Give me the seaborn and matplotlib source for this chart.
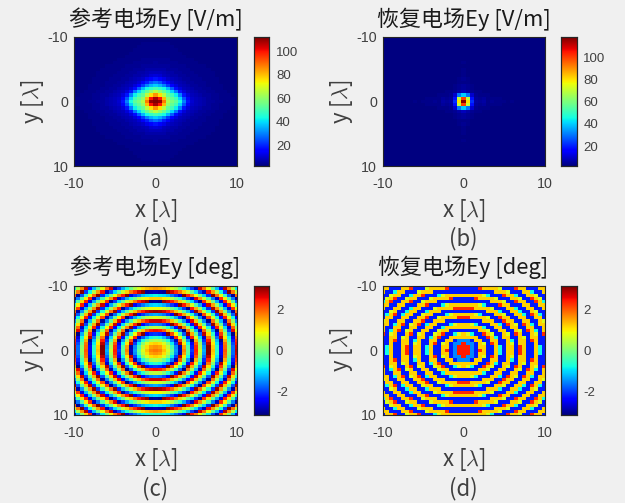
import numpy as np
import seaborn as sns
import matplotlib
matplotlib.use('Agg')
import matplotlib.pyplot as plt

# lower right quarter of each panel (x, y = 0 to 10, step 0.5), mirrored below to the full map.
# the picture is only nearly symmetric and has finer cells in (a) and (c), so this is an approximation.
# amp_ref, amp_rec: estimated by eye from the colours against the colorbar
amp_ref = [
    [113,110,88,64,57,53,44,30,18,10,8,7,6,5,5,4,4,3,3,3,2],
    [108,100,80,60,54,49,39,25,14,9,8,7,6,5,4,4,3,3,3,3,2],
    [85,76,65,54,49,42,30,18,11,8,7,6,5,5,4,4,3,3,3,2,2],
    [65,60,54,47,39,29,18,11,8,7,6,5,5,4,4,3,3,3,2,2,2],
    [50,47,43,36,26,17,11,8,7,6,5,5,4,4,3,3,3,2,2,2,2],
    [38,35,30,22,15,11,8,7,6,5,5,4,4,3,3,3,3,2,2,2,2],
    [28,25,19,14,10,8,7,6,5,5,4,4,4,3,3,3,2,2,2,2,2],
    [18,15,12,9,8,7,6,5,5,4,4,4,3,3,3,3,2,2,2,2,2],
    [11,10,8,7,6,6,5,5,4,4,4,3,3,3,3,2,2,2,2,2,2],
    [8,8,7,6,6,5,5,4,4,4,3,3,3,3,3,2,2,2,2,2,2],
    [6,6,6,5,5,5,4,4,4,3,3,3,3,3,2,2,2,2,2,2,2],
    [5,5,5,5,4,4,4,4,3,3,3,3,3,2,2,2,2,2,2,2,2],
    [5,4,4,4,4,4,3,3,3,3,3,2,2,2,2,2,2,2,2,2,2],
    [4,4,4,4,3,3,3,3,3,3,2,2,2,2,2,2,2,2,2,2,2],
    [3,3,3,3,3,3,3,3,2,2,2,2,2,2,2,2,2,2,2,2,2],
    [3,3,3,3,3,3,3,2,2,2,2,2,2,2,2,2,2,2,2,2,2],
    [3,3,3,3,3,3,2,2,2,2,2,2,2,2,2,2,2,2,2,2,2],
    [3,3,3,3,3,2,2,2,2,2,2,2,2,2,2,2,2,2,2,2,2],
    [3,3,3,3,2,2,2,2,2,2,2,2,2,2,2,2,2,2,2,2,2],
    [2,2,2,2,2,2,2,2,2,2,2,2,2,2,2,2,2,2,2,2,2],
    [2,2,2,2,2,2,2,2,2,2,2,2,2,2,2,2,2,2,2,2,2],
]
amp_rec = [
    [118,80,22,6,5,6,3,4,3,3,3,2,3,2,2,2,2,2,2,2,2],
    [100,70,18,5,4,5,3,3,3,3,2,2,2,2,2,2,2,2,2,2,2],
    [40,30,10,4,3,3,3,2,2,2,2,2,2,2,2,2,2,2,2,2,2],
    [8,6,4,3,3,2,2,2,2,2,2,2,2,2,2,2,2,2,2,2,2],
    [5,4,3,2,2,2,2,2,2,2,2,2,2,2,2,2,2,2,2,2,2],
    [5,4,3,2,2,2,2,2,2,2,2,2,2,2,2,2,2,2,2,2,2],
    [3,3,2,2,2,2,2,2,2,2,2,2,2,2,2,2,2,2,2,2,2],
    [4,3,2,2,2,2,2,2,2,2,2,2,2,2,2,2,2,2,2,2,2],
    [3,2,2,2,2,2,2,2,2,2,2,2,2,2,2,2,2,2,2,2,2],
    [3,2,2,2,2,2,2,2,2,2,2,2,2,2,2,2,2,2,2,2,2],
    [3,2,2,2,2,2,2,2,2,2,2,2,2,2,2,2,2,2,2,2,2],
    [2,2,2,2,2,2,2,2,2,2,2,2,2,2,2,2,2,2,2,2,2],
    [3,2,2,2,2,2,2,2,2,2,2,2,2,2,2,2,2,2,2,2,2],
    [2,2,2,2,2,2,2,2,2,2,2,2,2,2,2,2,2,2,2,2,2],
    [2,2,2,2,2,2,2,2,2,2,2,2,2,2,2,2,2,2,2,2,2],
    [2,2,2,2,2,2,2,2,2,2,2,2,2,2,2,2,2,2,2,2,2],
    [2,2,2,2,2,2,2,2,2,2,2,2,2,2,2,2,2,2,2,2,2],
    [2,2,2,2,2,2,2,2,2,2,2,2,2,2,2,2,2,2,2,2,2],
    [2,2,2,2,2,2,2,2,2,2,2,2,2,2,2,2,2,2,2,2,2],
    [2,2,2,2,2,2,2,2,2,2,2,2,2,2,2,2,2,2,2,2,2],
    [2,2,2,2,2,2,2,2,2,2,2,2,2,2,2,2,2,2,2,2,2],
]
# phase_ref, phase_rec: not read cell by cell. worked out by hand from the ring positions and
# spacing measured on the picture, so the rings sit about right but single cells will differ
phase_ref = [
    [1.8,1.7,1.3,.7,-.2,-1.4,-2.8,1.7,-.2,-2.0,2.4,.6,-1.3,3.1,1.3,-.6,-2.4,2.0,.2,-1.7,2.8],
    [1.6,1.5,1.1,.5,-.4,-1.5,-2.9,1.5,-.3,-2.2,2.3,.4,-1.4,3.1,1.2,-.6,-2.5,1.9,.1,-1.7,2.7],
    [1.2,1.1,.7,.1,-.9,-2.0,2.8,1.0,-.8,-2.5,2.0,.2,-1.7,2.8,1.0,-.9,-2.7,1.8,-.1,-1.9,2.5],
    [.4,.3,-.1,-.7,-1.6,-2.8,2.0,.3,-1.4,-3.1,1.4,-.3,-2.1,2.4,.6,-1.2,-3.0,1.4,-.4,-2.2,2.3],
    [-.6,-.8,-1.2,-1.8,-2.7,2.3,.9,-.6,-2.3,2.4,.7,-1.0,-2.7,1.8,.1,-1.7,2.8,1.0,-.8,-2.6,1.9],
    [-2.0,-2.1,-2.5,3.1,2.1,.9,-.4,-1.8,3.0,1.4,-.2,-1.8,2.8,1.1,-.6,-2.3,2.2,.4,-1.3,-3.1,1.4],
    [2.5,2.4,2.0,1.3,.4,-.6,-1.8,-3.1,1.8,.3,-1.2,-2.8,1.9,.3,-1.4,-3.1,1.5,-.2,-2.0,2.6,.8],
    [.5,.4,.0,-.6,-1.3,-2.3,3.0,1.7,.4,-.9,-2.4,2.4,.9,-.7,-2.3,2.4,.7,-1.0,-2.7,1.9,.2],
    [-1.5,-1.6,-1.9,-2.4,3.1,2.3,1.3,.2,-1.0,-2.3,2.7,1.2,-.3,-1.8,3.0,1.4,-.2,-1.9,2.8,1.1,-.6],
    [2.7,2.7,2.4,1.9,1.3,.5,-.4,-1.4,-2.5,2.6,1.3,-.1,-1.5,-3.0,1.8,.3,-1.2,-2.8,1.8,.2,-1.5],
    [.7,.6,.4,.0,-.6,-1.3,-2.1,-3.1,2.2,1.0,-.2,-1.5,-2.8,2.1,.7,-.8,-2.3,2.4,.8,-.8,-2.4],
    [-1.3,-1.4,-1.6,-2.0,-2.5,3.1,2.4,1.5,.5,-.6,-1.7,-3.0,2.1,.8,-.6,-2.0,2.8,1.3,-.2,-1.8,2.9],
    [3.0,2.9,2.7,2.4,1.9,1.3,.5,-.3,-1.2,-2.2,3.0,1.8,.6,-.6,-2.0,3.0,1.5,.1,-1.4,-2.9,1.8],
    [.9,.9,.7,.4,-.1,-.6,-1.3,-2.0,-3.0,2.4,1.4,.3,-.9,-2.1,2.9,1.6,.2,-1.2,-2.6,2.2,.7],
    [-1.0,-1.1,-1.3,-1.6,-2.0,-2.5,3.1,2.4,1.6,.7,-.3,-1.3,-2.4,2.7,1.5,.2,-1.1,-2.5,2.4,1.0,-.5],
    [-3.0,-3.1,3.0,2.7,2.4,1.8,1.2,.6,-.2,-1.0,-2.0,-3.0,2.3,1.1,-.1,-1.3,-2.6,2.4,1.1,-.3,-1.8],
    [1.2,1.2,1.0,.7,.4,-.1,-.6,-1.3,-2.0,-2.8,2.6,1.6,.6,-.4,-1.6,-2.8,2.3,1.0,-.3,-1.6,-3.0],
    [-.8,-.9,-1.0,-1.2,-1.6,-2.0,-2.6,3.1,2.4,1.7,.8,-.1,-1.1,-2.1,3.1,1.9,.8,-.5,-1.8,-3.0,1.9],
    [-2.8,-2.9,-3.0,3.1,2.7,2.3,1.8,1.2,.6,-.2,-1.0,-1.9,-2.8,2.5,1.5,.4,-.8,-2.0,3.1,1.8,.5],
    [1.5,1.4,1.3,1.1,.7,.4,-.1,-.7,-1.3,-2.0,-2.8,2.7,1.8,.8,-.2,-1.2,-2.3,2.8,1.6,.4,-.9],
    [-.6,-.6,-.8,-.9,-1.2,-1.6,-2.0,-2.6,3.1,2.4,1.7,.9,.0,-.9,-1.9,-2.9,2.3,1.2,.0,-1.2,-2.4],
]
# recovered phase is almost two-level, so name the colours that occur in it
A, B, Y, C, R, K, S = 1.2, -2.2, .7, -.8, 2.3, 2.4, -1.5
phase_rec = [
    [K,K,S,B,R,A,B,B,A,C,B,A,A,B,R,A,B,B,A,C,B],
    [K,K,S,B,A,A,B,B,A,C,B,A,A,B,R,A,B,B,A,C,B],
    [K,S,S,B,A,Y,B,R,A,B,B,A,Y,B,A,A,B,B,A,B,B],
    [S,S,B,A,A,B,B,A,A,B,B,A,C,B,A,A,B,R,A,B,B],
    [A,A,A,A,B,B,R,A,C,B,A,A,B,B,A,Y,B,A,A,B,B],
    [A,Y,C,B,B,R,A,Y,B,B,A,Y,B,R,A,B,B,A,Y,B,R],
    [B,B,B,B,A,A,Y,B,B,A,A,B,B,A,Y,B,R,A,C,B,A],
    [A,A,A,A,A,C,B,B,A,A,B,B,A,A,B,B,A,A,B,B,A],
    [A,A,Y,C,B,B,B,A,A,C,B,R,A,Y,B,R,A,C,B,A,A],
    [B,B,B,B,B,A,A,A,B,B,R,A,A,B,B,A,A,B,B,A,Y],
    [R,R,A,A,A,A,Y,B,B,R,A,A,B,B,A,A,B,B,A,A,B],
    [A,A,A,Y,C,B,B,B,A,A,Y,B,B,A,A,C,B,R,A,C,B],
    [B,B,B,B,B,B,A,A,A,C,B,B,A,A,C,B,B,A,Y,B,B],
    [R,R,R,A,A,A,A,Y,B,B,B,A,A,C,B,B,A,A,B,B,A],
    [A,A,A,A,Y,C,B,B,B,R,A,A,B,B,B,A,A,B,B,A,A],
    [B,B,B,B,B,B,B,A,A,A,Y,B,B,R,A,A,B,B,R,A,C],
    [B,B,B,R,A,A,A,A,Y,B,B,B,A,A,Y,B,B,R,A,Y,B],
    [A,A,A,A,A,Y,C,B,B,B,R,A,A,C,B,B,A,A,Y,B,B],
    [B,B,B,B,B,B,B,B,A,A,A,Y,B,B,B,A,A,C,B,B,A],
    [B,B,B,B,R,A,A,A,A,Y,B,B,B,R,A,A,B,B,B,A,A],
    [A,A,A,A,A,A,Y,C,B,B,B,R,A,A,Y,B,B,R,A,A,B],
]

titles = ['参考电场Ey [V/m]', '恢复电场Ey [V/m]', '参考电场Ey [deg]', '恢复电场Ey [deg]']
letters = ['(a)', '(b)', '(c)', '(d)']
panels = [amp_ref, amp_rec, phase_ref, phase_rec]
limits = [(2.1, 112.2), (2.0, 118.6), (-3.1416, 3.1416), (-3.1416, 3.1416)]
cbar_ticks = [[20, 40, 60, 80, 100], [20, 40, 60, 80, 100], [-2, 0, 2], [-2, 0, 2]]
cbar_labels = [['20', '40', '60', '80', '100'], ['20', '40', '60', '80', '100'],
               ['-2', '0', '2'], ['-2', '0', '2']]
axis_labels = ['-10', '0', '10']

sns.set_theme(style='white', rc={'figure.facecolor': '#f0f0f0'})
plt.rcParams['font.family'] = ['Noto Sans CJK SC', 'DejaVu Sans']
plt.rcParams['mathtext.fontset'] = 'cm'
dark = '#262626'
grey = '#404040'

# pixel boxes of the axes: left, right, top, bottom
W, H = 625, 503
boxes = [(74, 237, 37, 166), (382.5, 544.5, 37, 166), (74, 237, 285.5, 415), (382.5, 544.5, 285.5, 415)]


def mirror(quarter):
    q = np.array(quarter, dtype=float)
    top = np.hstack([q[:, :0:-1], q])
    return np.vstack([top[:0:-1], top])


fig = plt.figure(figsize=(W / 100, H / 100), dpi=100)
for i, (l, r, t, b) in enumerate(boxes):
    ax = fig.add_axes([l / W, 1 - b / H, (r - l) / W, (b - t) / H])
    cax = fig.add_axes([(r + 16.5) / W, 1 - b / H, 15.5 / W, (b - t) / H])
    sns.heatmap(mirror(panels[i]), ax=ax, cbar_ax=cax, cmap='jet',
                vmin=limits[i][0], vmax=limits[i][1],
                xticklabels=False, yticklabels=False)
    ax.set_xlim(0.5, 40.5)
    ax.set_ylim(40.5, 0.5)
    ax.set_xticks([0.5, 20.5, 40.5], axis_labels)
    ax.set_yticks([0.5, 20.5, 40.5], axis_labels)
    ax.tick_params(direction='in', length=1.5, width=0.6, color=dark, labelcolor=grey,
                   labelsize=10.3, labelfontfamily='Liberation Sans', bottom=True, left=True,
                   labelrotation=0)
    ax.tick_params(axis='x', pad=8)
    ax.tick_params(axis='y', pad=4)
    for side in ax.spines.values():
        side.set_visible(True)
        side.set_color(dark)
        side.set_linewidth(0.8)
    ax.set_title(titles[i], fontsize=15.8, color='#1a1a1a', pad=8)
    ax.set_xlabel(r'x [$\lambda$]', fontsize=16, color=grey)
    ax.set_ylabel(r'y [$\lambda$]', fontsize=16, color=grey)
    ax.xaxis.set_label_coords(0.5, -0.24)
    ax.yaxis.set_label_coords(-0.17, 0.5)
    ax.text(0.5, -0.565, letters[i], transform=ax.transAxes, ha='center', va='center',
            fontsize=16, color=grey)

    cax.set_yticks(cbar_ticks[i], cbar_labels[i])
    cax.tick_params(direction='in', length=1.5, width=0.6, color=dark, labelcolor=grey,
                    labelsize=9.5, labelfontfamily='Liberation Sans', pad=5, right=True)
    for side in cax.spines.values():
        side.set_visible(True)
        side.set_color(dark)
        side.set_linewidth(0.8)

fig.savefig('out.png', dpi=100, facecolor=fig.get_facecolor())
